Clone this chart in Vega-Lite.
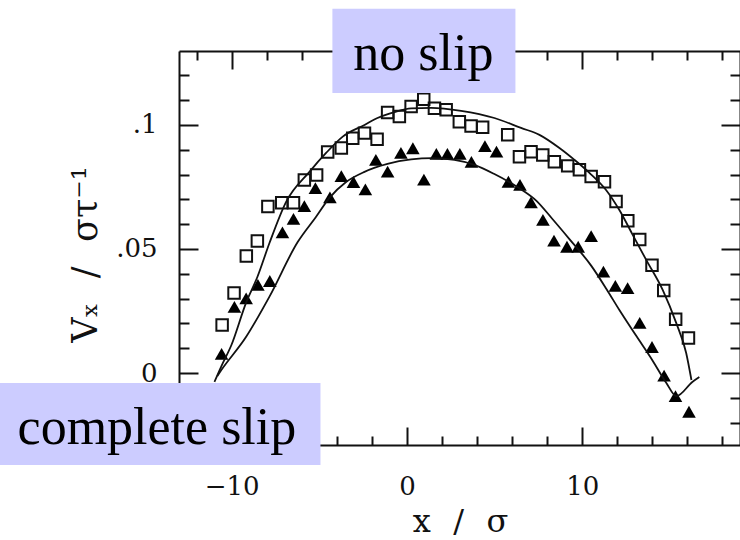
{
  "$schema": "https://vega.github.io/schema/vega-lite/v6.json",
  "width": 561,
  "height": 394,
  "autosize": {"type": "none"},
  "padding": {"left": 179, "top": 51, "right": 0, "bottom": 95},
  "background": "white",
  "config": {
    "view": {"stroke": null},
    "axis": {"grid": false, "domainColor": "#111", "tickColor": "#111", "labelColor": "#111", "titleColor": "#111", "zindex": 0}
  },
  "datasets": {
    "noSlip": [
      {"x": -10.54, "v": 0.0194}, {"x": -9.86, "v": 0.0323}, {"x": -9.16, "v": 0.0472}, {"x": -8.53, "v": 0.0532},
      {"x": -7.93, "v": 0.0671}, {"x": -7.14, "v": 0.0686}, {"x": -6.47, "v": 0.0686}, {"x": -5.85, "v": 0.0778},
      {"x": -5.15, "v": 0.0798}, {"x": -4.52, "v": 0.0891}, {"x": -3.74, "v": 0.0907}, {"x": -3.09, "v": 0.0946},
      {"x": -2.42, "v": 0.0967}, {"x": -1.70, "v": 0.0942}, {"x": -1.10, "v": 0.1050}, {"x": -0.43, "v": 0.1034},
      {"x": 0.24, "v": 0.1074}, {"x": 0.96, "v": 0.1104}, {"x": 1.57, "v": 0.1067}, {"x": 2.24, "v": 0.1061},
      {"x": 2.99, "v": 0.1013}, {"x": 3.66, "v": 0.0996}, {"x": 4.32, "v": 0.0991}, {"x": 5.75, "v": 0.0960},
      {"x": 6.42, "v": 0.0872}, {"x": 7.08, "v": 0.0892}, {"x": 7.75, "v": 0.0879}, {"x": 8.41, "v": 0.0852},
      {"x": 9.17, "v": 0.0835}, {"x": 9.84, "v": 0.0819}, {"x": 10.51, "v": 0.0792}, {"x": 11.27, "v": 0.0771},
      {"x": 11.93, "v": 0.0691}, {"x": 12.60, "v": 0.0614}, {"x": 13.28, "v": 0.0538}, {"x": 13.98, "v": 0.0434},
      {"x": 14.65, "v": 0.0333}, {"x": 15.33, "v": 0.0217}, {"x": 16.06, "v": 0.0141}
    ],
    "completeSlip": [
      {"x": -10.57, "v": 0.0077}, {"x": -9.84, "v": 0.0267}, {"x": -9.17, "v": 0.0301}, {"x": -8.50, "v": 0.0355},
      {"x": -7.82, "v": 0.0371}, {"x": -7.10, "v": 0.0567}, {"x": -6.47, "v": 0.0621}, {"x": -5.85, "v": 0.0673},
      {"x": -5.22, "v": 0.0745}, {"x": -4.39, "v": 0.0708}, {"x": -3.74, "v": 0.0794}, {"x": -3.05, "v": 0.0770},
      {"x": -2.37, "v": 0.0740}, {"x": -1.77, "v": 0.0859}, {"x": -1.10, "v": 0.0812}, {"x": -0.34, "v": 0.0887},
      {"x": 0.34, "v": 0.0906}, {"x": 0.97, "v": 0.0780}, {"x": 1.68, "v": 0.0883}, {"x": 2.31, "v": 0.0883},
      {"x": 3.02, "v": 0.0883}, {"x": 3.68, "v": 0.0851}, {"x": 4.45, "v": 0.0915}, {"x": 5.11, "v": 0.0892},
      {"x": 5.79, "v": 0.0771}, {"x": 6.45, "v": 0.0758}, {"x": 7.08, "v": 0.0688}, {"x": 7.76, "v": 0.0617},
      {"x": 8.39, "v": 0.0534}, {"x": 9.13, "v": 0.0509}, {"x": 9.77, "v": 0.0509}, {"x": 10.51, "v": 0.0552},
      {"x": 11.21, "v": 0.0409}, {"x": 11.89, "v": 0.0351}, {"x": 12.59, "v": 0.0342}, {"x": 13.28, "v": 0.0202},
      {"x": 13.98, "v": 0.0105}, {"x": 14.67, "v": -0.0010}, {"x": 15.32, "v": -0.0093}, {"x": 16.09, "v": -0.0156}
    ],
    "noSlipFit": [
      {"x": -10.98, "v": -0.0036}, {"x": -10.58, "v": 0.0028}, {"x": -10.01, "v": 0.0113}, {"x": -9.16, "v": 0.0286},
      {"x": -8.53, "v": 0.0387}, {"x": -7.84, "v": 0.0524}, {"x": -6.89, "v": 0.0690}, {"x": -5.56, "v": 0.0811},
      {"x": -4.61, "v": 0.0887}, {"x": -3.66, "v": 0.0953}, {"x": -2.42, "v": 0.1000}, {"x": -1.68, "v": 0.1028},
      {"x": -0.71, "v": 0.1052}, {"x": 0.24, "v": 0.1067}, {"x": 1.38, "v": 0.1069}, {"x": 3.09, "v": 0.1057},
      {"x": 4.99, "v": 0.1028}, {"x": 6.51, "v": 0.0988}, {"x": 7.56, "v": 0.0960}, {"x": 8.70, "v": 0.0907},
      {"x": 9.56, "v": 0.0859}, {"x": 10.41, "v": 0.0807}, {"x": 11.36, "v": 0.0738}, {"x": 12.12, "v": 0.0657},
      {"x": 12.88, "v": 0.0557}, {"x": 13.65, "v": 0.0456}, {"x": 14.59, "v": 0.0335}, {"x": 15.36, "v": 0.0202},
      {"x": 15.93, "v": 0.0081}, {"x": 16.23, "v": -0.0028}
    ],
    "completeSlipFit": [
      {"x": -10.81, "v": -0.0012}, {"x": -10.70, "v": 0.0000}, {"x": -9.17, "v": 0.0146}, {"x": -7.84, "v": 0.0308},
      {"x": -6.23, "v": 0.0528}, {"x": -5.18, "v": 0.0630}, {"x": -4.42, "v": 0.0706}, {"x": -3.47, "v": 0.0770},
      {"x": -2.42, "v": 0.0811}, {"x": -1.11, "v": 0.0843}, {"x": 0.24, "v": 0.0861}, {"x": 1.45, "v": 0.0866},
      {"x": 2.71, "v": 0.0859}, {"x": 3.85, "v": 0.0839}, {"x": 4.99, "v": 0.0802}, {"x": 6.30, "v": 0.0750},
      {"x": 7.39, "v": 0.0694}, {"x": 8.30, "v": 0.0621}, {"x": 9.27, "v": 0.0540}, {"x": 10.52, "v": 0.0432},
      {"x": 11.38, "v": 0.0339}, {"x": 12.12, "v": 0.0254}, {"x": 13.09, "v": 0.0149}, {"x": 14.00, "v": 0.0052},
      {"x": 14.80, "v": -0.0040}, {"x": 15.37, "v": -0.0093}, {"x": 16.28, "v": -0.0036}, {"x": 16.68, "v": -0.0016}
    ]
  },
  "layer": [
    {
      "data": {"name": "noSlip"},
      "mark": {"type": "point", "shape": "square", "filled": false, "size": 132, "stroke": "#111", "strokeWidth": 2, "opacity": 1},
      "encoding": {
        "x": {
          "field": "x", "type": "quantitative",
          "scale": {"domain": [-13, 19], "nice": false, "zero": false},
          "axis": {
            "orient": "bottom", "values": [-10, 0, 10], "domain": false, "ticks": false, "labels": true,
            "labelFont": "DejaVu Serif", "labelFontSize": 26, "labelPadding": 49, "labelBaseline": "alphabetic",
            "labelFlush": false, "labelOverlap": false, "zindex": 0,
            "title": "x\u2002\u2009/\u2002\u2009\u03c3", "titleFont": "DejaVu Serif", "titleFontSize": 32, "titleFontWeight": "normal",
            "titleX": 281, "titleY": 86, "titleAlign": "center", "titleBaseline": "alphabetic"
          }
        },
        "y": {
          "field": "v", "type": "quantitative",
          "scale": {"domain": [-0.029, 0.1298], "nice": false, "zero": false},
          "axis": {
            "orient": "left", "values": [0, 0.05, 0.1], "domain": false, "ticks": false, "labels": true,
            "labelExpr": "datum.value === 0 ? '0' : datum.value === 0.1 ? '.1' : '.05'",
            "labelFont": "DejaVu Serif", "labelFontSize": 26, "labelPadding": 22, "labelBaseline": "middle", "labelAlign": "right",
            "labelFlush": false, "labelOverlap": false, "zindex": 0,
            "title": "V\u2093\u2002\u2009/\u2002\u2009\u03c3\u03c4\u207b\u00b9", "titleFont": "DejaVu Serif", "titleFontSize": 35, "titleFontWeight": "normal",
            "titleAngle": 270, "titleX": -94, "titleY": 203, "titleAlign": "center", "titleBaseline": "middle"
          }
        }
      }
    },
    {
      "data": {"name": "completeSlip"},
      "mark": {"type": "point", "shape": "triangle-up", "filled": true, "size": 185, "color": "#000", "opacity": 1},
      "encoding": {
        "x": {
          "field": "x", "type": "quantitative",
          "scale": {"domain": [-13, 19], "nice": false, "zero": false},
          "axis": {"orient": "bottom", "values": [-10, 0, 10], "domain": true, "domainWidth": 2, "ticks": true, "tickSize": -18, "tickWidth": 2, "labels": false, "title": null, "zindex": 0}
        },
        "y": {
          "field": "v", "type": "quantitative",
          "scale": {"domain": [-0.029, 0.1298], "nice": false, "zero": false},
          "axis": {"orient": "left", "values": [0, 0.05, 0.1], "domain": true, "domainWidth": 2, "ticks": true, "tickSize": -19, "tickWidth": 2, "labels": false, "title": null, "zindex": 0}
        }
      }
    },
    {
      "data": {"name": "noSlipFit"},
      "mark": {"type": "line", "interpolate": "monotone", "stroke": "#111", "strokeWidth": 1.8},
      "encoding": {
        "x": {
          "field": "x", "type": "quantitative",
          "axis": {"orient": "bottom", "values": [-12, -8, -6, -4, -2, 2, 4, 6, 8, 12, 14, 16, 18], "domain": false, "ticks": true, "tickSize": -9, "tickWidth": 2, "labels": false, "title": null, "zindex": 0}
        },
        "y": {
          "field": "v", "type": "quantitative",
          "axis": {"orient": "left", "values": [-0.02, -0.01, 0.01, 0.02, 0.03, 0.04, 0.06, 0.07, 0.08, 0.09, 0.11, 0.12], "domain": false, "ticks": true, "tickSize": -10, "tickWidth": 2, "labels": false, "title": null, "zindex": 0}
        }
      }
    },
    {
      "data": {"name": "completeSlipFit"},
      "mark": {"type": "line", "interpolate": "monotone", "stroke": "#111", "strokeWidth": 1.8},
      "encoding": {
        "x": {
          "field": "x", "type": "quantitative",
          "axis": {"orient": "top", "values": [-10, 0, 10], "domain": true, "domainWidth": 2, "ticks": true, "tickSize": -18, "tickWidth": 2, "labels": false, "title": null, "zindex": 0}
        },
        "y": {
          "field": "v", "type": "quantitative",
          "axis": {"orient": "right", "values": [0, 0.05, 0.1], "domain": true, "domainWidth": 2, "ticks": true, "tickSize": -19, "tickWidth": 2, "labels": false, "title": null, "zindex": 0}
        }
      }
    },
    {
      "data": {"values": [{"label": "no slip"}]},
      "mark": {"type": "rect", "fill": "#ccccff"},
      "encoding": {
        "x": {
          "datum": -4.25, "type": "quantitative",
          "axis": {"orient": "top", "values": [-12, -8, -6, -4, -2, 2, 4, 6, 8, 12, 14, 16, 18], "domain": false, "ticks": true, "tickSize": -9, "tickWidth": 2, "labels": false, "title": null, "zindex": 0}
        },
        "x2": {"datum": 6.19},
        "y": {
          "datum": 0.1468, "type": "quantitative",
          "axis": {"orient": "right", "values": [-0.02, -0.01, 0.01, 0.02, 0.03, 0.04, 0.06, 0.07, 0.08, 0.09, 0.11, 0.12], "domain": false, "ticks": true, "tickSize": -10, "tickWidth": 2, "labels": false, "title": null, "zindex": 0}
        },
        "y2": {"datum": 0.1129}
      }
    },
    {
      "data": {"values": [{"label": "complete slip"}]},
      "mark": {"type": "rect", "fill": "#ccccff"},
      "encoding": {
        "x": {"datum": -23.3, "type": "quantitative", "axis": null},
        "x2": {"datum": -4.93},
        "y": {"datum": -0.0040, "type": "quantitative", "axis": null},
        "y2": {"datum": -0.0371}
      }
    },
    {
      "data": {"values": [{"label": "no slip"}]},
      "mark": {"type": "text", "font": "Liberation Serif", "fontSize": 52, "align": "center", "baseline": "alphabetic", "color": "#000"},
      "encoding": {
        "x": {"datum": 0.94, "type": "quantitative", "axis": null},
        "y": {"datum": 0.1222, "type": "quantitative", "axis": null},
        "text": {"field": "label"}
      }
    },
    {
      "data": {"values": [{"label": "complete slip"}]},
      "mark": {"type": "text", "font": "Liberation Serif", "fontSize": 52, "align": "center", "baseline": "alphabetic", "color": "#000"},
      "encoding": {
        "x": {"datum": -14.26, "type": "quantitative", "axis": null},
        "y": {"datum": -0.0286, "type": "quantitative", "axis": null},
        "text": {"field": "label"}
      }
    }
  ],
  "resolve": {"axis": {"x": "independent", "y": "independent"}}
}
